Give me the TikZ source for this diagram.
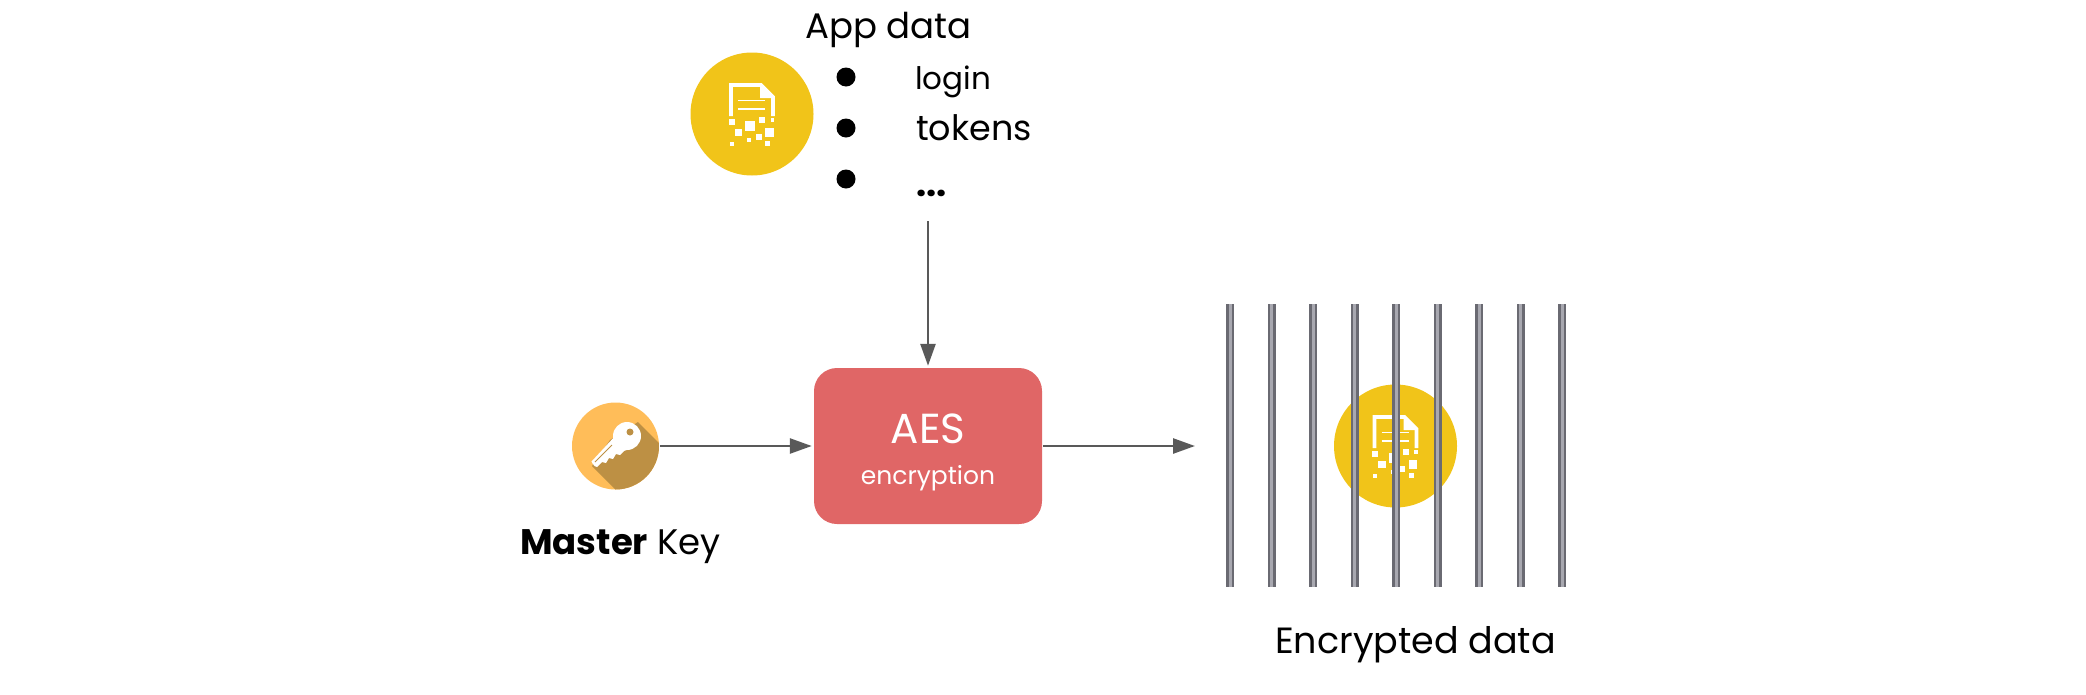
\documentclass[tikz,border=0pt]{standalone}
\usepackage{fontspec}
\setmainfont{Poppins}
\usetikzlibrary{arrows.meta}
\definecolor{docgold}{HTML}{F1C419}
\definecolor{keybg}{HTML}{FFBD59}
\definecolor{keysh}{HTML}{BD9044}
\definecolor{aesred}{HTML}{E06666}
\definecolor{conn}{HTML}{595959}
\definecolor{baredge}{HTML}{6A6A72}
\definecolor{barmid}{HTML}{A8A8B0}
\tikzset{
 x=1pt,y=-1pt,
 txt/.style={inner sep=0pt,anchor=base west,text=black},
 big/.style={font=\fontsize{35.5}{40}\selectfont},
 conn/.style={draw=conn,line width=2.6pt,-{Triangle[length=22pt,width=15pt]},shorten <=1pt,shorten >=2pt},
 goldc/.style={circle,fill=docgold,minimum size=123pt,inner sep=0pt},
 bullet/.style={circle,fill=black,minimum size=19pt,inner sep=0pt},
 pics/docicon/.style={code={
  \draw[white,line width=3.6pt,line join=miter] (-21,2)--(-21,-29)--(9,-29)--(21,-17)--(21,2);
  \fill[white] (8,-29)--(8,-16)--(21,-16)--cycle;
  \draw[white,line width=1.6pt] (-14,-13.5)--(13,-13.5) (-14,-5)--(13,-5);
  \foreach \zx/\zy/\s in {155/365/18,247/360/18,277/360/10,210/377/30,175/397/22,268/397/26,207/420/12,236/412/18,155/431/12,263/430/14}{
   \fill[white] ({(\zx-216)/3-\s/6},{(\zy-342)/3-\s/6}) rectangle ++({\s/3},{\s/3});
  }
 }}
}
\begin{document}
\begin{tikzpicture}
\useasboundingbox (0,0) rectangle (2086,694);
% app data
\node[goldc] (app) at (752,114) {};
\pic at (752,114) {docicon};
\node[txt,big] (apptitle) at (805,38) {App data};
\node[bullet] (b1) at (846,77) {};
\node[bullet] (b2) at (846,128) {};
\node[bullet] (b3) at (846,179) {};
\node[txt,font=\fontsize{31}{36}\selectfont] (login) at (915,89) {login};
\node[txt,font=\fontsize{35}{36}\selectfont] (tokens) at (916,140) {tokens};
\node[txt,font=\fontsize{36}{36}\bfseries] (dots) at (916,196) {...};
% key
\node[circle,fill=keybg,minimum size=87pt,inner sep=0pt] (key) at (615.5,446) {};
\begin{scope}
 \clip (615.5,446) circle (43.5);
 \fill[keysh] (638,422)--(690,474)--(650,524)--(592,466)--(610,440)--cycle;
\end{scope}
\fill[white] (627,436) circle (14);
\fill[white] (592,461)--(617,434)--(632,448)--(624,451)--(620,455)--(616,454)--(613,459)--(609,458)--(606,463)--(602,462)--(597,467) to[out=200,in=135] cycle;
\draw[keysh,line width=1pt] (595,462)--(612,445);
\fill[keysh] (630,432) circle (3.5);
\node[txt,big] (mk) at (520,554) {\textbf{Master} Key};
% AES
\node[draw=none,fill=aesred,rounded corners=23pt,minimum width=228pt,minimum height=156pt,inner sep=0pt] (aes) at (928,446) {};
\node[inner sep=0pt,anchor=base,text=white,font=\fontsize{42}{44}\selectfont] (aest) at (928,443) {AES};
\node[inner sep=0pt,anchor=base,text=white,font=\fontsize{25}{28}\selectfont] (enc) at (928,484) {encryption};
% encrypted
\node[goldc] (encd) at (1395.5,446) {};
\pic at (1395.5,446) {docicon};
\foreach \i/\x in {1/1230,2/1271.5,3/1313,4/1354.5,5/1396,6/1437.5,7/1479,8/1520.5,9/1562}{
 \draw[line width=8pt,draw=baredge] (\x,304)--(\x,587);
 \draw[line width=3pt,draw=barmid] (\x,304)--(\x,587);
}
\node[txt,font=\fontsize{36.5}{40}\selectfont] (encl) at (1275,653) {Encrypted data};
% connectors
\coordinate (topstart) at (928,220);
\coordinate (rightend) at (1197,446);
\draw[conn] (topstart) -- (aes.north);
\draw[conn] (key.east) -- (aes.west);
\draw[conn] (aes.east) -- (rightend);
\end{tikzpicture}
\end{document}
